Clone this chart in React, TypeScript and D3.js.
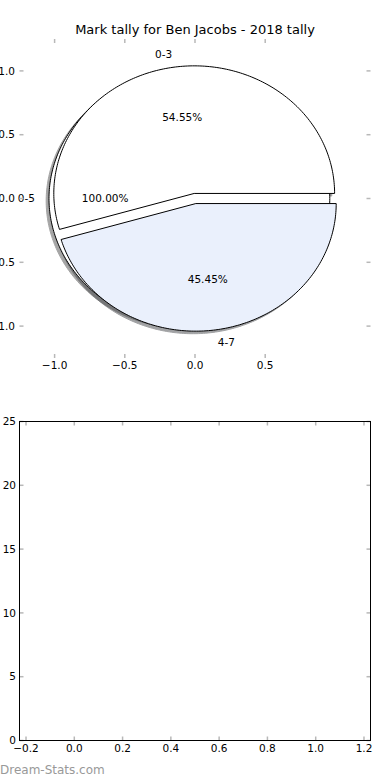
import React, { useEffect } from "react";
import * as d3 from "d3";

const titleText = "Mark tally for Ben Jacobs - 2018 tally";
const outerLabels = ["0-5"];
const outerValues = [11];
const outerColors = ["#ffffff"];
const innerLabels = ["0-3", "4-7"];
const innerValues = [6, 5];
const innerColors = ["#ffffff", "#eaf0fc"];
const explodeAmount = 0.04;
const pieXTicks = [-1.0, -0.5, 0.0, 0.5];
const pieYTicks = [1.0, 0.5, 0.0, -0.5, -1.0];
const barXTicks = [-0.2, 0.0, 0.2, 0.4, 0.6, 0.8, 1.0, 1.2];
const barYTicks = [0, 5, 10, 15, 20, 25];
const watermark = "Dream-Stats.com";

const W = 390;
const H = 780;
const FONT = "DejaVu Sans, sans-serif";
const TICK = "#b8b8b8";

const topBox = { l: 19.5, r: 370.5, t: 39, b: 358 };
const botBox = { l: 19.5, r: 370.5, t: 421.5, b: 740.5 };

const px = d3.scaleLinear().domain([-1.25, 1.25]).range([topBox.l, topBox.r]);
const py = d3.scaleLinear().domain([-1.25, 1.25]).range([topBox.b, topBox.t]);
const bx = d3.scaleLinear().domain([-0.227, 1.227]).range([botBox.l, botBox.r]);
const by = d3.scaleLinear().domain([0, 25]).range([botBox.b, botBox.t]);

type Wedge = {
  label: string;
  value: number;
  color: string;
  a0: number;
  a1: number;
  cx: number;
  cy: number;
  full: boolean;
  frac: number;
};

function buildWedges(labels: string[], values: number[], colors: string[]): Wedge[] {
  const total = d3.sum(values);
  const arcs = d3
    .pie<number>()
    .sort(null)
    .startAngle(0)
    .endAngle(2 * Math.PI)(values);
  return arcs.map((a, i) => {
    const mid = (a.startAngle + a.endAngle) / 2;
    return {
      label: labels[i],
      value: values[i],
      color: colors[i],
      a0: a.startAngle,
      a1: a.endAngle,
      cx: explodeAmount * Math.cos(mid),
      cy: explodeAmount * Math.sin(mid),
      full: Math.abs(a.endAngle - a.startAngle - 2 * Math.PI) < 1e-9,
      frac: values[i] / total,
    };
  });
}

const line = d3
  .line<[number, number]>()
  .x((d) => px(d[0]))
  .y((d) => py(d[1]));

function wedgePath(w: Wedge, ox = 0, oy = 0): string {
  const n = Math.max(8, Math.ceil(((w.a1 - w.a0) / (2 * Math.PI)) * 360));
  const pts: [number, number][] = d3
    .range(n + 1)
    .map((i) => {
      const t = w.a0 + ((w.a1 - w.a0) * i) / n;
      return [w.cx + ox + Math.cos(t), w.cy + oy + Math.sin(t)] as [number, number];
    });
  if (w.full) return (line(pts) || "") + "Z";
  const all: [number, number][] = [[w.cx + ox, w.cy + oy], ...pts];
  return (line(all) || "") + "Z";
}

function shadowColor(c: string): string {
  const rgb = d3.rgb(c);
  return d3.rgb(rgb.r * 0.3, rgb.g * 0.3, rgb.b * 0.3).formatHex();
}

const outer = buildWedges(outerLabels, outerValues, outerColors);
const inner = buildWedges(innerLabels, innerValues, innerColors);
const allWedges = [...outer, ...inner];

export default function App() {
  useEffect(() => {
    document.body.style.margin = "0";
  }, []);

  const fmt = d3.format(".1f");
  const fmtMinus = (v: number) => fmt(v).replace("-", "\u2212");

  return (
    <svg width={W} height={H} style={{ position: "absolute", left: 0, top: 0, background: "#fff" }} fontFamily={FONT}>
      <rect x={0} y={0} width={W} height={H} fill="#fff" />
      <text x={195} y={34} textAnchor="middle" fontSize={13} fill="#000">
        {titleText}
      </text>

      {/* shadows */}
      {allWedges.map((w, i) => (
        <path
          key={"s" + i}
          d={wedgePath(w, -0.02, -0.02)}
          fill={shadowColor(w.color)}
          stroke={shadowColor(w.color)}
          strokeWidth={1}
          opacity={0.5}
        />
      ))}
      {/* wedges */}
      {allWedges.map((w, i) => (
        <path key={"w" + i} d={wedgePath(w)} fill={w.color} stroke="#000" strokeWidth={1} strokeLinejoin="miter" />
      ))}

      {/* labels */}
      {allWedges.map((w, i) => {
        const mid = (w.a0 + w.a1) / 2;
        const lx = w.cx + 1.1 * Math.cos(mid);
        const ly = w.cy + 1.1 * Math.sin(mid);
        const tx = w.cx + 0.6 * Math.cos(mid);
        const ty = w.cy + 0.6 * Math.sin(mid);
        return (
          <g key={"l" + i} fontSize={10.5} fill="#000">
            <text x={px(lx)} y={py(ly)} dy="0.36em" textAnchor={lx > 0 ? "start" : "end"}>
              {w.label}
            </text>
            <text x={px(tx)} y={py(ty)} dy="0.36em" textAnchor="middle">
              {d3.format(".2f")(w.frac * 100) + "%"}
            </text>
          </g>
        );
      })}

      {/* top axes ticks */}
      {pieXTicks.map((t) => (
        <g key={"ptx" + t}>
          <line x1={px(t)} x2={px(t)} y1={topBox.t} y2={topBox.t + 4} stroke={TICK} strokeWidth={1.5} />
          <line x1={px(t)} x2={px(t)} y1={topBox.b} y2={topBox.b - 4} stroke={TICK} strokeWidth={1.5} />
          <text x={px(t)} y={topBox.b + 11} textAnchor="middle" fontSize={10.5}>
            {fmtMinus(t)}
          </text>
        </g>
      ))}
      {pieYTicks.map((t) => (
        <g key={"pty" + t}>
          <line x1={topBox.l} x2={topBox.l + 4} y1={py(t)} y2={py(t)} stroke={TICK} strokeWidth={1.5} />
          <line x1={topBox.r} x2={topBox.r - 4} y1={py(t)} y2={py(t)} stroke={TICK} strokeWidth={1.5} />
          <text x={15} y={py(t)} dy="0.36em" textAnchor="end" fontSize={10.5}>
            {fmtMinus(t)}
          </text>
        </g>
      ))}

      {/* bottom axes */}
      {barXTicks.map((t) => (
        <g key={"btx" + t}>
          <line x1={bx(t)} x2={bx(t)} y1={botBox.t} y2={botBox.t + 4} stroke={TICK} strokeWidth={1.5} />
          <line x1={bx(t)} x2={bx(t)} y1={botBox.b} y2={botBox.b - 4} stroke={TICK} strokeWidth={1.5} />
          <text x={bx(t)} y={botBox.b + 11} textAnchor="middle" fontSize={10.5}>
            {fmtMinus(t)}
          </text>
        </g>
      ))}
      {barYTicks.map((t) => (
        <g key={"bty" + t}>
          <line x1={botBox.l} x2={botBox.l + 4} y1={by(t)} y2={by(t)} stroke={TICK} strokeWidth={1.5} />
          <line x1={botBox.r} x2={botBox.r - 4} y1={by(t)} y2={by(t)} stroke={TICK} strokeWidth={1.5} />
          <text x={16} y={by(t)} dy="0.36em" textAnchor="end" fontSize={10.5}>
            {String(t)}
          </text>
        </g>
      ))}
      <rect
        x={botBox.l}
        y={botBox.t}
        width={botBox.r - botBox.l}
        height={botBox.b - botBox.t}
        fill="none"
        stroke="#000"
        strokeWidth={1}
      />

      <text x={0} y={774} fontSize={12} fill="#999" fontWeight="normal">
        {watermark}
      </text>
    </svg>
  );
}
